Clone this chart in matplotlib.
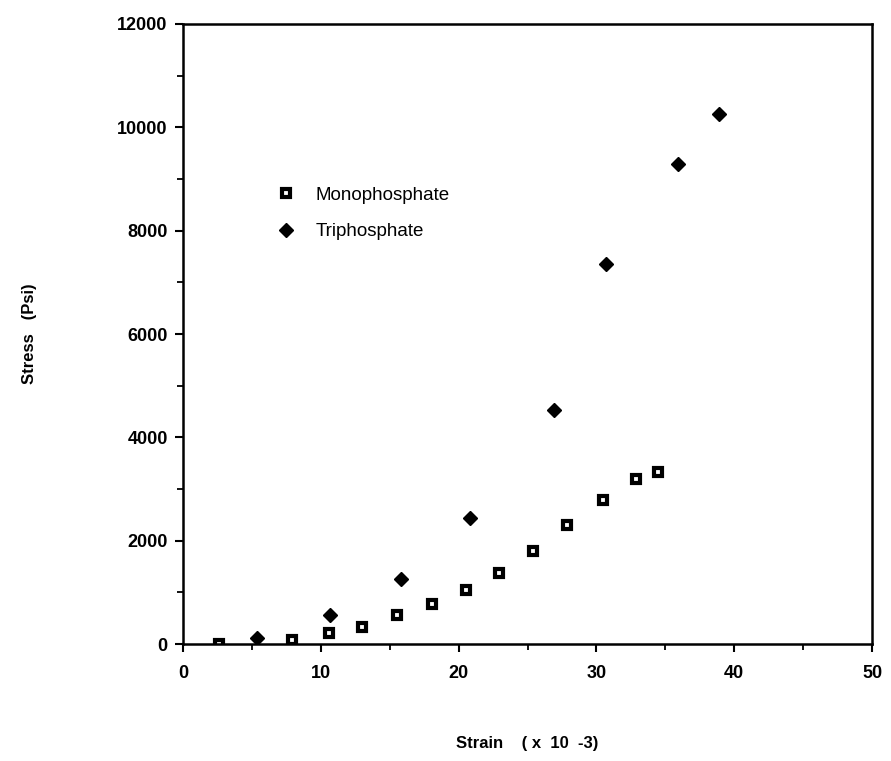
import matplotlib.pyplot as plt
from matplotlib.ticker import MultipleLocator

plt.rcParams['font.family'] = ['Liberation Sans', 'DejaVu Sans']

# values
mono_strain = [2.6, 7.9, 10.6, 13.0, 15.5, 18.1, 20.5, 22.9, 25.4, 27.9, 30.5, 32.9, 34.5]
mono_stress = [0, 80, 210, 330, 560, 775, 1045, 1375, 1800, 2300, 2790, 3190, 3330]
tri_strain = [5.4, 10.7, 15.8, 20.8, 26.9, 30.7, 35.9, 38.9]
tri_stress = [115, 560, 1260, 2440, 4530, 7355, 9290, 10260]

fig = plt.figure(figsize=(8.91, 7.61), dpi=100)
ax = fig.add_axes([0.2054, 0.1537, 0.7733, 0.8148])

ax.plot(mono_strain, mono_stress, 's', ms=5.5, mfc='white', mec='black', mew=3.0,
        ls='none', label='Monophosphate')
ax.plot(tri_strain, tri_stress, 'D', ms=7.5, color='black', ls='none', label='Triphosphate')

ax.set_xlim(0, 50)
ax.set_ylim(0, 12000)
ax.xaxis.set_major_locator(MultipleLocator(10))
ax.xaxis.set_minor_locator(MultipleLocator(5))
ax.yaxis.set_major_locator(MultipleLocator(2000))
ax.yaxis.set_minor_locator(MultipleLocator(1000))

for s in ax.spines.values():
    s.set_linewidth(1.8)
ax.tick_params(which='major', direction='out', length=6, width=1.5, labelsize=13, pad=5)
ax.tick_params(which='major', axis='x', pad=9)
ax.tick_params(which='minor', direction='out', length=4, width=1.3)
for lab in ax.get_xticklabels() + ax.get_yticklabels():
    lab.set_fontweight('bold')

ax.set_xlabel('Strain    ( x  10  -3)', fontsize=12, fontweight='bold', labelpad=39)
ax.set_ylabel('Stress   (Psi)', fontsize=12, fontweight='bold', labelpad=58)

ax.legend(loc='upper left', bbox_to_anchor=(0.108, 0.753), frameon=False,
          fontsize=13.5, handletextpad=0.6, labelspacing=1.05, borderpad=0)

fig.savefig('out.png', dpi=100)
